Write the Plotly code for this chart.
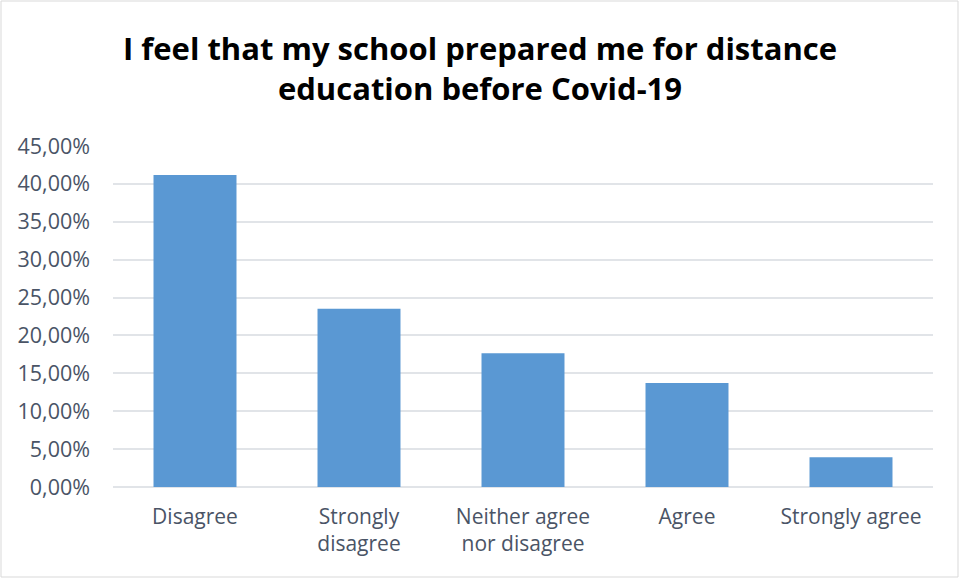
import plotly.graph_objects as go

# Survey responses: share of respondents per answer
categories = ["Disagree", "Strongly<br>disagree", "Neither agree<br>nor disagree", "Agree", "Strongly agree"]
shares = [0.4118, 0.2353, 0.1765, 0.1373, 0.0392]
y_ticks = [0, 0.05, 0.10, 0.15, 0.20, 0.25, 0.30, 0.35, 0.40, 0.45]

title_text = "I feel that my school prepared me for distance<br>education before Covid-19"

font_family = "'Open Sans', sans-serif"
label_color = "#4a5466"
grid_color = "#e1e4e8"

fig = go.Figure(
    go.Bar(
        x=categories,
        y=shares,
        marker=dict(color="#5a98d3", line=dict(width=0)),
        hoverinfo="x+y",
    )
)

W, H = 960, 579
L, R, T, B = 113, 27, 146, 92

fig.update_layout(
    width=W,
    height=H,
    margin=dict(l=L, r=R, t=T, b=B),
    paper_bgcolor="white",
    plot_bgcolor="white",
    separators=",.",
    bargap=0.494,
    showlegend=False,
    title=dict(
        text=title_text,
        x=0.5,
        xref="container",
        xanchor="center",
        y=1 - 60 / H,
        yref="container",
        yanchor="middle",
        font=dict(family=font_family, size=31, color="#000000", weight="bold"),
    ),
    font=dict(family=font_family, color=label_color),
)

fig.update_xaxes(
    showgrid=False,
    showline=False,
    ticks="",
    tickfont=dict(size=21, color=label_color),
    ticklabelstandoff=15,
)

fig.update_yaxes(
    range=[0, 0.45],
    tickvals=y_ticks,
    tickformat=".2%",
    showgrid=True,
    gridcolor=grid_color,
    gridwidth=1.5,
    zeroline=True,
    zerolinecolor=grid_color,
    zerolinewidth=1.5,
    showline=False,
    ticks="",
    tickfont=dict(size=21.5, color=label_color),
    ticklabelstandoff=22,
)

# Light frame around the whole chart area
pw, ph = W - L - R, H - T - B
fig.add_shape(
    type="rect",
    xref="paper",
    yref="paper",
    x0=(1 - L) / pw,
    x1=(W - 2 - L) / pw,
    y0=-(B - 2) / ph,
    y1=(H - 1 - B) / ph,
    line=dict(color="#d9d9d9", width=1),
    fillcolor="rgba(0,0,0,0)",
    layer="below",
)

fig.write_html("out.html")
